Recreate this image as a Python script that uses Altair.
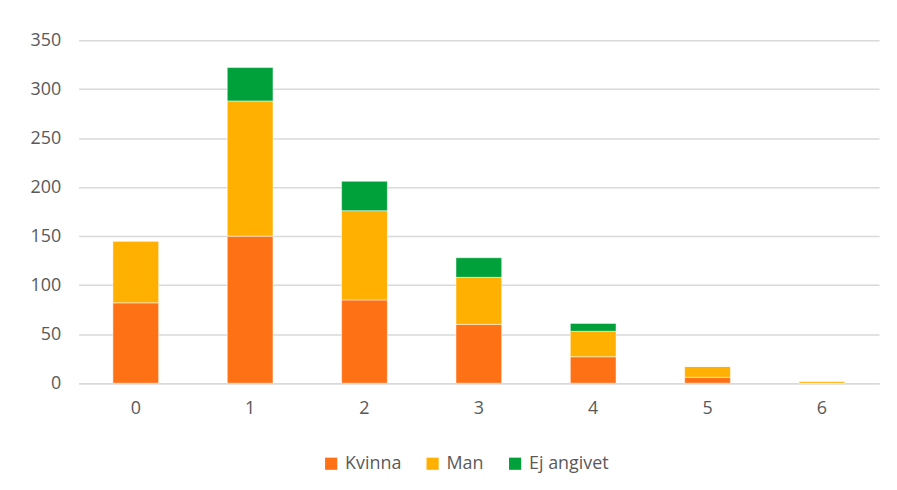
import altair as alt
import pandas as pd

categories = ["0", "1", "2", "3", "4", "5", "6"]
kvinna = [82, 150, 85, 60, 27, 6, 0]
man = [63, 138, 91, 48, 26, 11, 2]
ej_angivet = [0, 34, 30, 20, 8, 0, 0]
series = ["Kvinna", "Man", "Ej angivet"]
colors = ["#FF7115", "#FFB000", "#00A03A"]

rows = []
for i, c in enumerate(categories):
    for s, vals in zip(series, [kvinna, man, ej_angivet]):
        rows.append({"cat": c, "series": s, "value": vals[i], "ord": series.index(s)})
df = pd.DataFrame(rows)

font = "Open Sans"

chart = alt.Chart(df).mark_bar(stroke="white", strokeOpacity=0.5, strokeWidth=1).encode(
    x=alt.X("cat:N", sort=categories, title=None,
            scale=alt.Scale(paddingInner=0.6, paddingOuter=0.3),
            axis=alt.Axis(labelAngle=0, ticks=False, domainColor="#d9d9d9", domainWidth=1.5,
                          grid=False, labelPadding=16, labelFontSize=18, labelColor="#595959",
                          labelFont=font)),
    y=alt.Y("value:Q", stack="zero", title=None,
            scale=alt.Scale(domain=[0, 350], nice=False),
            axis=alt.Axis(values=[0, 50, 100, 150, 200, 250, 300, 350], ticks=False, domain=False,
                          gridColor="#d9d9d9", gridWidth=1.5, labelPadding=18, labelFontSize=18,
                          labelColor="#595959", labelFont=font)),
    color=alt.Color("series:N", sort=series,
                    scale=alt.Scale(domain=series, range=colors),
                    legend=alt.Legend(title=None, orient="none", direction="horizontal",
                                      legendX=245, legendY=417, symbolType="square",
                                      symbolSize=150, symbolStrokeWidth=0, labelFontSize=18,
                                      labelColor="#595959", labelFont=font, columnPadding=22,
                                      labelOffset=5)),
    order=alt.Order("ord:Q"),
).properties(
    width=805, height=345,
    autosize=alt.AutoSizeParams(type="none"),
    padding={"left": 71, "top": 31, "right": 10, "bottom": 90},
    background="white",
).configure_view(stroke=None, strokeWidth=0)

chart.save("out.html", embed_options={"renderer": "svg", "actions": False})
